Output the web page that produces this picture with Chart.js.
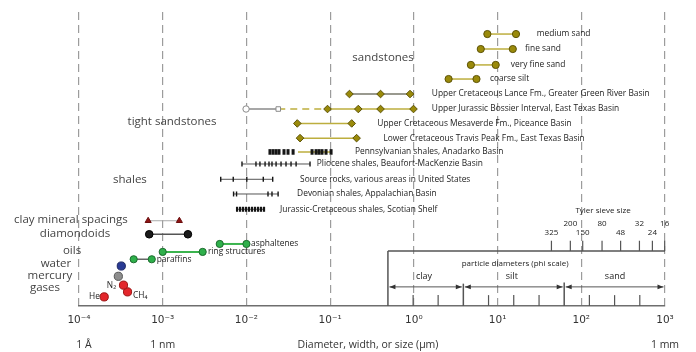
<!DOCTYPE html>
<html lang="en">
<head>
  <meta charset="UTF-8" />
  <title>Pore and particle sizes</title>
  <script src="https://cdn.jsdelivr.net/npm/chart.js"></script>
  <style>
    html, body { margin: 0; padding: 0; background: #fff; }
  </style>
</head>
<body>
  <canvas id="sizeChart" width="696" height="352"></canvas>

  <script>
    // x axis: size in micrometres, log decades
    const decades = [1e-4, 1e-3, 1e-2, 1e-1, 1, 10, 100, 1000];
    const decadeLabels = ['10⁻⁴', '10⁻³', '10⁻²', '10⁻¹', '10⁰', '10¹', '10²', '10³'];

    // sandstones
    const sandNames = ['medium sand', 'fine sand', 'very fine sand', 'coarse silt'];
    const sandLevels = [92.5, 87.4, 82.0, 77.2];
    const sandSizes = [[7.55, 16.6], [6.3, 15.2], [4.8, 9.5], [2.6, 5.6]];
    const sandNoteAt = [29.4, 21.3, 14.4, 8.1];

    // tight sandstones
    const tightNames = [
      'Upper Cretaceous Lance Fm., Greater Green River Basin',
      'Upper Jurassic Bossier Interval, East Texas Basin',
      'Upper Cretaceous Mesaverde Fm., Piceance Basin',
      'Lower Cretaceous Travis Peak Fm., East Texas Basin'
    ];
    const tightLevels = [72.1, 67.0, 62.1, 57.1];
    const tightSizes = [
      [0.17, 0.40, 0.90],
      [0.0099, 0.024, 0.093, 0.217, 0.40, 0.99],
      [0.0405, 0.181],
      [0.0437, 0.207]
    ];
    const tightNoteAt = [1.64, 1.64, 0.366, 0.433];

    // shales
    const shaleNames = [
      'Pennsylvanian shales, Anadarko Basin',
      'Pliocene shales, Beaufort-MacKenzie Basin',
      'Source rocks, various areas in United States',
      'Devonian shales, Appalachian Basin',
      'Jurassic-Cretaceous shales, Scotian Shelf'
    ];
    const shaleLevels = [52.4, 48.3, 43.1, 38.1, 32.9];
    const shaleSizes = [
      [0.0191, 0.0208, 0.0226, 0.0245, 0.0281, 0.0314, 0.0361, 0.0608, 0.0679, 0.0736, 0.080, 0.0893, 0.1026],
      [0.00885, 0.0130, 0.0145, 0.0167, 0.0186, 0.0202, 0.0226, 0.0259, 0.0297, 0.0341, 0.0392, 0.0575],
      [0.00493, 0.00696, 0.0101, 0.0159, 0.0206],
      [0.00702, 0.00762, 0.0181, 0.0202, 0.0239],
      [0.00773, 0.0084, 0.00911, 0.00989, 0.01074, 0.01167, 0.01268, 0.01378, 0.01494, 0.01622]
    ];
    const shaleNoteAt = [0.198, 0.0692, 0.0437, 0.0403, 0.0252];
    const pennsylvanianOlive = [0.0413, 0.1026];

    // molecules and fluids
    const molNames = ['clay mineral spacings', 'diamondoids', 'asphaltenes', 'ring structures', 'paraffins', 'water', 'mercury', 'N₂', 'CH₄', 'He'];
    const molLevels = [29.0, 24.4, 21.1, 18.4, 15.9, 13.6, 10.1, 7.1, 4.8, 3.1];
    const molSizes = [
      [6.7e-4, 1.58e-3], [6.9e-4, 2.0e-3], [4.8e-3, 1.0e-2], [1.0e-3, 3.0e-3], [4.5e-4, 7.4e-4],
      [3.2e-4], [2.95e-4], [3.4e-4], [3.8e-4], [2.0e-4]
    ];

    // particle diameters (phi scale) and Tyler sieve sizes
    const phiEdges = [0.49, 3.9, 62.5, 1000];
    const phiClasses = ['clay', 'silt', 'sand'];
    const phiMinor = [0.98, 1.95, 7.8, 15.6, 31.3, 125, 250, 500];
    const sieveMesh = ['325', '200', '150', '80', '48', '32', '24', '16'];
    const sieveSizes = [44, 74, 104, 177, 295, 495, 707, 991];

    const FONT = '"Open Sans", "Liberation Sans", sans-serif';
    const TEXT = '#333';
    const OLIVE = '#9a8a0a', OLIVE_EDGE = '#5c5206', OLIVE_LINE = '#bdae3e';
    const GREEN = '#2fb04b', GREEN_EDGE = '#1b6a2d';
    const RED = '#e3262b', RED_EDGE = '#9a1414';

    function row(values, level, opts) {
      return Object.assign({
        data: values.map(v => ({ x: v, y: level })),
        showLine: true,
        borderWidth: 1.5,
        pointRadius: 3.6,
        pointBorderWidth: 1
      }, opts);
    }

    const datasets = [];

    sandSizes.forEach((s, i) => datasets.push(row(s, sandLevels[i], {
      borderColor: OLIVE_LINE, pointStyle: 'circle',
      pointBackgroundColor: OLIVE, pointBorderColor: OLIVE_EDGE
    })));

    tightSizes.forEach((s, i) => {
      const base = {
        borderColor: i === 0 ? '#77776a' : OLIVE_LINE, pointStyle: 'rectRot', pointRadius: 3.8,
        pointBackgroundColor: OLIVE, pointBorderColor: OLIVE_EDGE
      };
      if (i === 1) {
        base.pointStyle = s.map((v, j) => j === 0 ? 'circle' : j === 1 ? 'rect' : 'rectRot');
        base.pointRadius = s.map((v, j) => j < 2 ? 3.2 : 3.8);
        base.pointBackgroundColor = s.map((v, j) => j < 2 ? '#fff' : OLIVE);
        base.pointBorderColor = s.map((v, j) => j < 2 ? '#8a8a8a' : OLIVE_EDGE);
        base.segment = {
          borderColor: c => c.p0DataIndex === 0 ? '#8a8a8a' : OLIVE_LINE,
          borderDash: c => c.p0DataIndex === 1 ? [7, 5] : []
        };
      }
      datasets.push(row(s, tightLevels[i], base));
    });

    shaleSizes.forEach((s, i) => {
      const penn = i === 0;
      datasets.push(row(s, shaleLevels[i], {
        showLine: !penn, borderColor: '#555', borderWidth: 1,
        pointStyle: 'line', pointRotation: 90, pointRadius: penn ? 2.8 : 2.5,
        pointBorderColor: '#151515', pointBorderWidth: penn ? 3 : (i === 4 ? 2.2 : 1.4)
      }));
    });
    datasets.push(row(pennsylvanianOlive, shaleLevels[0], { borderColor: OLIVE_LINE, pointRadius: 0 }));

    const molStyles = [
      { borderColor: '#aaa', borderWidth: 1, pointStyle: 'triangle', pointRadius: 3.5, pointBackgroundColor: '#8e1414', pointBorderColor: '#6a0d0d' },
      { borderColor: '#555', pointStyle: 'circle', pointRadius: 3.8, pointBackgroundColor: '#1a1a1a', pointBorderColor: '#000' },
      { borderColor: '#3bb44e', borderWidth: 2, pointBackgroundColor: GREEN, pointBorderColor: GREEN_EDGE },
      { borderColor: '#3bb44e', borderWidth: 2, pointBackgroundColor: GREEN, pointBorderColor: GREEN_EDGE },
      { borderColor: '#666', pointBackgroundColor: GREEN, pointBorderColor: GREEN_EDGE },
      { pointRadius: 4.1, pointBackgroundColor: '#293a94', pointBorderColor: '#1a2560' },
      { pointRadius: 4.1, pointBackgroundColor: '#8d8d8d', pointBorderColor: '#555' },
      { pointRadius: 4.1, pointBackgroundColor: RED, pointBorderColor: RED_EDGE },
      { pointRadius: 4.1, pointBackgroundColor: RED, pointBorderColor: RED_EDGE },
      { pointRadius: 4.1, pointBackgroundColor: RED, pointBorderColor: RED_EDGE }
    ];
    molSizes.forEach((s, i) => datasets.push(row(s, molLevels[i], Object.assign({ pointStyle: 'circle' }, molStyles[i]))));

    // text placed by data position
    const notes = [
      { t: 'sandstones', x: 0.429, y: 84.5, big: true },
      { t: 'tight sandstones', x: 1.29e-3, y: 62.6, big: true },
      { t: 'shales', x: 4.06e-4, y: 42.9, big: true },
      { t: 'clay mineral spacings', x: 8.0e-5, y: 29.3, big: true },
      { t: 'diamondoids', x: 8.96e-5, y: 24.5, big: true },
      { t: 'oils', x: 8.25e-5, y: 18.7, big: true },
      { t: 'water', x: 5.31e-5, y: 14.3, big: true },
      { t: 'mercury', x: 4.5e-5, y: 10.2, big: true },
      { t: 'gases', x: 3.92e-5, y: 6.1, big: true },
      { t: 'asphaltenes', x: 0.01135, y: molLevels[2] },
      { t: 'ring structures', x: 0.00348, y: molLevels[3] },
      { t: 'paraffins', x: 8.47e-4, y: molLevels[4] },
      { t: 'N₂', x: 2.77e-4, y: 7.0, align: 'right' },
      { t: 'CH₄', x: 4.42e-4, y: 3.7 },
      { t: 'He', x: 1.78e-4, y: 3.1, align: 'right' }
    ];
    sandNames.forEach((t, i) => notes.push({ t, x: sandNoteAt[i], y: sandLevels[i] }));
    tightNames.forEach((t, i) => notes.push({ t, x: tightNoteAt[i], y: tightLevels[i] }));
    shaleNames.forEach((t, i) => notes.push({ t, x: shaleNoteAt[i], y: shaleLevels[i] }));

    const overlay = {
      id: 'overlay',
      afterDatasetsDraw(chart) {
        const { ctx, scales: { x, y } } = chart;
        const px = v => x.getPixelForValue(v);
        const py = v => y.getPixelForValue(v);
        ctx.save();
        ctx.textBaseline = 'middle';
        ctx.fillStyle = TEXT;

        notes.forEach(n => {
          ctx.font = (n.big ? '11.5px ' : '8.4px ') + FONT;
          ctx.textAlign = n.big ? 'center' : (n.align || 'left');
          ctx.fillStyle = n.big ? '#444' : '#222';
          ctx.fillText(n.t, px(n.x), py(n.y));
        });

        // phi scale box
        const line = (x1, y1, x2, y2, w) => {
          ctx.lineWidth = w;
          ctx.beginPath(); ctx.moveTo(x1, y1); ctx.lineTo(x2, y2); ctx.stroke();
        };
        const head = (xp, yp, dir) => {
          ctx.beginPath(); ctx.moveTo(xp, yp);
          ctx.lineTo(xp + dir * 6, yp - 2.3); ctx.lineTo(xp + dir * 6, yp + 2.3);
          ctx.closePath(); ctx.fill();
        };
        ctx.strokeStyle = '#555';
        ctx.fillStyle = '#333';
        const top = py(18.7), base = py(0);
        line(px(phiEdges[0]), top, px(phiEdges[3]), top, 1.5);
        line(px(phiEdges[0]), top, px(phiEdges[0]), base, 1.5);
        line(px(phiEdges[1]), py(7.6), px(phiEdges[1]), base, 1.5);
        line(px(phiEdges[2]), py(8.0), px(phiEdges[2]), base, 1.5);
        phiMinor.forEach(v => line(px(v), py(3.7), px(v), base, 1.2));
        sieveSizes.forEach(v => line(px(v), py(22.2), px(v), top, 1.2));

        const ay = py(6.5);
        ctx.font = '9px ' + FONT;
        ctx.textAlign = 'center';
        for (let i = 0; i < 3; i++) {
          const a = px(phiEdges[i]) + 1.5, b = px(phiEdges[i + 1]) - 1.5;
          line(a, ay, b, ay, 1);
          head(a, ay, 1); head(b, ay, -1);
        }
        ctx.fillStyle = '#222';
        ctx.fillText(phiClasses[0], px(1.32), py(9.9));
        ctx.fillText(phiClasses[1], px(14.8), py(9.9));
        ctx.fillText(phiClasses[2], px(253), py(9.9));

        ctx.font = '8px ' + FONT;
        ctx.fillText('particle diameters (phi scale)', px(16.2), py(14.5));
        ctx.fillText('Tyler sieve size', px(182), py(32.3));
        sieveMesh.forEach((m, i) => ctx.fillText(m, px(sieveSizes[i]), py(i % 2 ? 28.1 : 24.8)));

        // size landmarks under the axis
        const by = chart.height - 7;
        ctx.font = '10.5px ' + FONT;
        ctx.fillStyle = '#333';
        ctx.fillText('1 Å', px(1e-4) + 5, by);
        ctx.fillText('1 nm', px(1e-3), by);
        ctx.fillText('1 mm', px(1e3), by);
        ctx.fillText('Diameter, width, or size (µm)', (x.left + x.right) / 2 - 4, by);
        ctx.restore();
      }
    };

    new Chart(document.getElementById('sizeChart'), {
      type: 'scatter',
      data: { datasets },
      options: {
        responsive: false,
        animation: false,
        layout: { padding: { left: 79, right: 31, top: 12, bottom: 0 } },
        plugins: { legend: { display: false }, tooltip: { enabled: false } },
        scales: {
          x: {
            type: 'logarithmic',
            min: 1e-4,
            max: 1e3,
            afterBuildTicks: s => { s.ticks = decades.map(v => ({ value: v })); },
            afterFit: s => { s.height = 46; },
            grid: { color: '#9c9c9c', lineWidth: 1.2, drawTicks: false },
            border: { display: true, color: '#6e6e6e', width: 1.6, dash: [8, 5] },
            ticks: {
              autoSkip: false, maxRotation: 0, padding: 8, color: '#333',
              font: { family: '"DejaVu Sans", sans-serif', size: 10.5 },
              callback: (v, i) => decadeLabels[i]
            }
          },
          y: { display: false, min: 0, max: 100 }
        }
      },
      plugins: [overlay]
    });
  </script>
</body>
</html>
